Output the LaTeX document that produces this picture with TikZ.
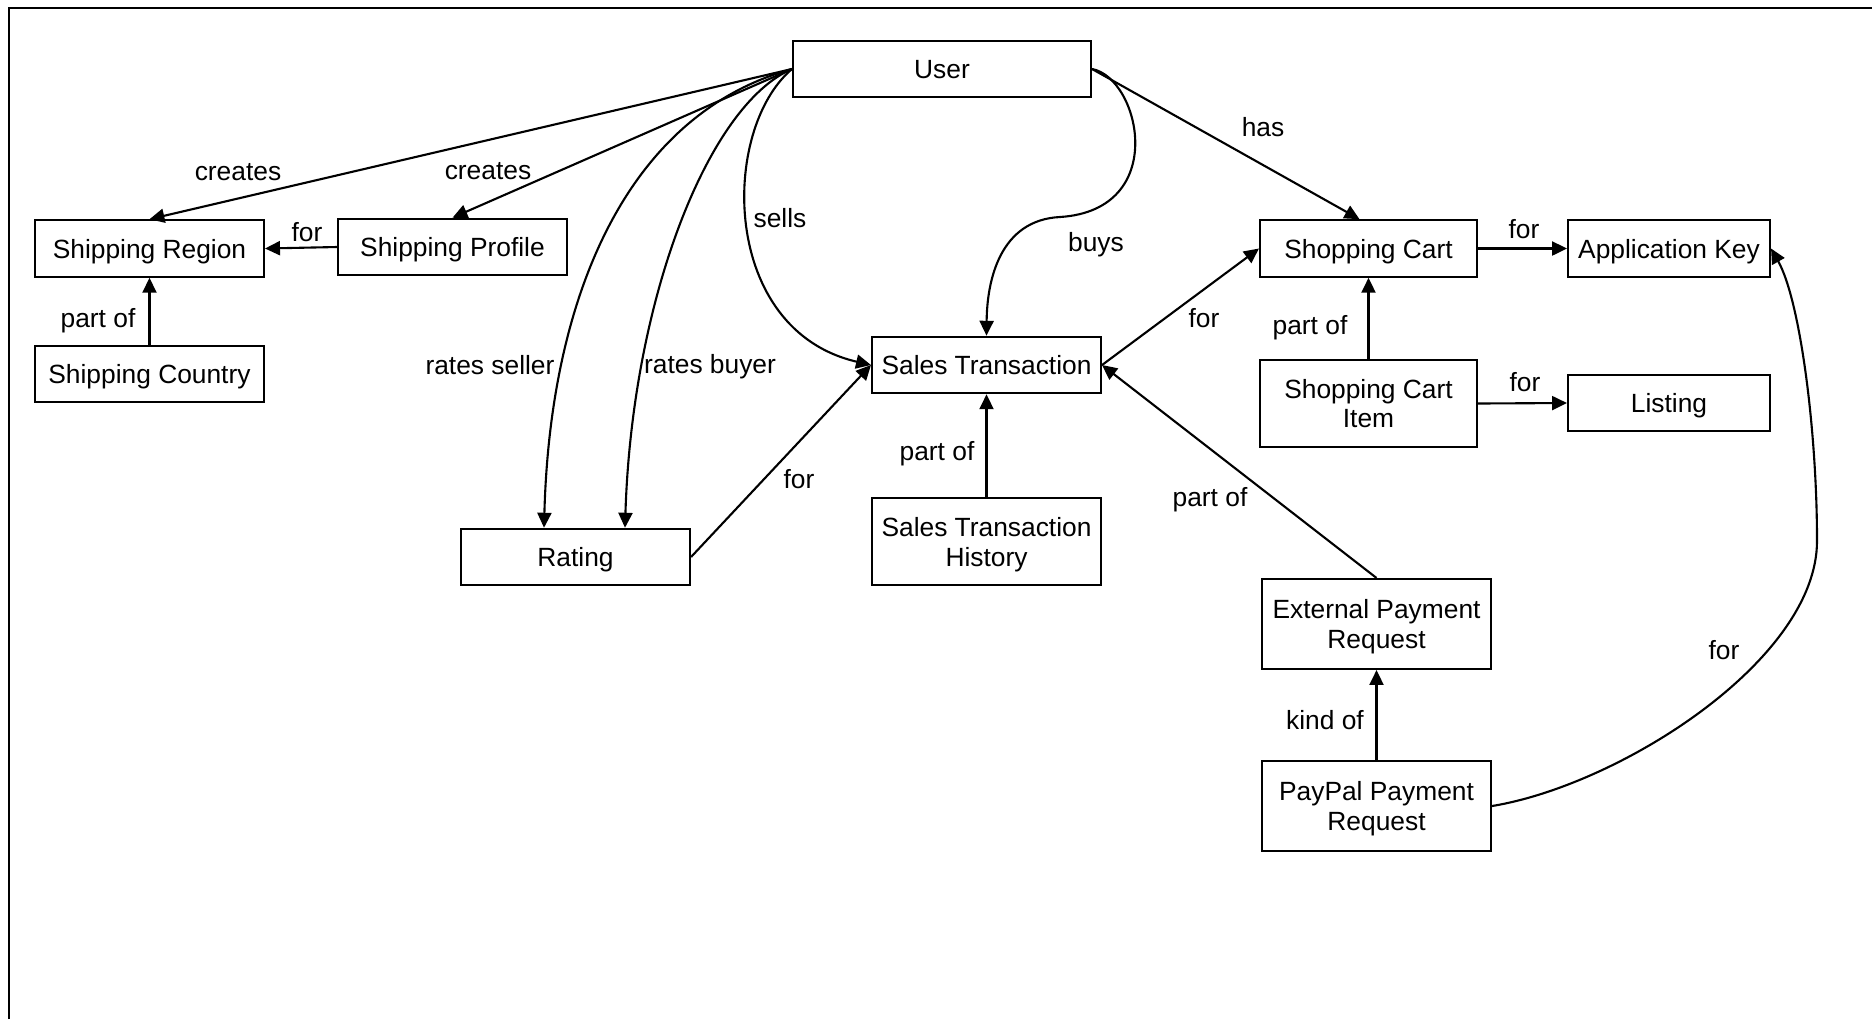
\documentclass[tikz,border=0pt]{standalone}
\usepackage{fontspec}
\setmainfont{Liberation Sans}
\usetikzlibrary{arrows.meta}

\begin{document}
\begin{tikzpicture}[x=0.02cm,y=-0.02cm,
	every node/.style={font=\fontsize{15pt}{17pt}\selectfont, text depth=0pt},
	entity/.style={draw, line width=1.2pt, inner sep=0pt, align=center, minimum width=4.58cm, minimum height=1.13cm},
	twoline/.style={minimum height=1.74cm},
	rel/.style={line width=1.2pt, -{Triangle[length=8.5pt,width=8pt]}}]

	\useasboundingbox (0,0) rectangle (1872,1019);
	\draw[line width=1.2pt] (9,1019) -- (9,8) -- (1872,8);

	% entities
	\node[entity, minimum width=5.96cm] (user) at (942,69) {User};
	\node[entity] (sregion) at (149.5,248.5) {Shipping Region};
	\node[entity] (sprofile) at (452.5,247) {Shipping Profile};
	\node[entity] (scountry) at (149.5,374) {Shipping Country};
	\node[entity] (rating) at (575.5,557) {Rating};
	\node[entity] (stx) at (986.5,365) {Sales Transaction};
	\node[entity, twoline] (stxhist) at (986.5,541.5) {Sales Transaction\\History};
	\node[entity, minimum width=4.34cm] (cart) at (1368.5,248.5) {Shopping Cart};
	\node[entity, minimum width=4.04cm] (appkey) at (1669,248.5) {Application Key};
	\node[entity, twoline, minimum width=4.34cm] (cartitem) at (1368.5,403.5) {Shopping Cart\\Item};
	\node[entity, minimum width=4.04cm] (listing) at (1669,403) {Listing};
	\node[entity, twoline, minimum height=1.8cm] (extpay) at (1376.5,624) {External Payment\\Request};
	\node[entity, twoline, minimum height=1.8cm] (paypal) at (1376.5,806) {PayPal Payment\\Request};

	% relations from user
	\draw[rel] (user.west) -- (sregion.north);
	\node (lcreatesreg) at (238,172) {creates};
	\draw[rel] (user.west) -- (sprofile.north);
	\node (lcreatesprof) at (488,171) {creates};
	\draw[rel] (user.west) .. controls (625,115) and (550,300) .. ([xshift=-0.63cm]rating.north);
	\node (lseller) at (490,365) {rates seller};
	\draw[rel] (user.west) .. controls (708,105) and (632,300) .. ([xshift=0.99cm]rating.north);
	\node (lbuyer) at (710,364) {rates buyer};
	\draw[rel] (user.west) .. controls (720,130) and (720,330) .. (stx.west);
	\node (lsells) at (780,218) {sells};
	\draw[rel] (user.east) .. controls (1140,78) and (1170,210) .. (1060,217) .. controls (1000,220) and (987,280) .. (stx.north);
	\node (lbuys) at (1096,242) {buys};
	\draw[rel] (user.east) -- ([xshift=-0.18cm]cart.north);
	\node (lhas) at (1263,127) {has};

	% shipping
	\draw[rel] (sprofile.west) -- (sregion.east);
	\node (lforreg) at (307,232) {for};
	\draw[rel] (scountry.north) -- (sregion.south);
	\node (lpartreg) at (98,318) {part of};

	% sales
	\draw[rel] (rating.east) -- (stx.west);
	\node (lforrating) at (799,479) {for};
	\draw[rel] (stxhist.north) -- (stx.south);
	\node (lparthist) at (937,451) {part of};
	\draw[rel] (stx.east) -- (cart.west);
	\node (lforcart) at (1204,318) {for};
	\draw[rel] (extpay.north) -- (stx.east);
	\node (lpartext) at (1210,497) {part of};

	% cart and payment
	\draw[rel] (cart.east) -- (appkey.west);
	\node (lforkey) at (1524,229) {for};
	\draw[rel] (cartitem.north) -- (cart.south);
	\node (lpartitem) at (1310,325) {part of};
	\draw[rel] (cartitem.east) -- (listing.west);
	\node (lforlisting) at (1525,382) {for};
	\draw[rel] (paypal.north) -- (extpay.south);
	\node (lkind) at (1325,720) {kind of};
	\draw[rel] (paypal.east) .. controls (1620,785) and (1817,660) .. (1817,541) .. controls (1817,430) and (1800,300) .. (appkey.east);
	\node (lforpaypal) at (1724,650) {for};

\end{tikzpicture}
\end{document}
